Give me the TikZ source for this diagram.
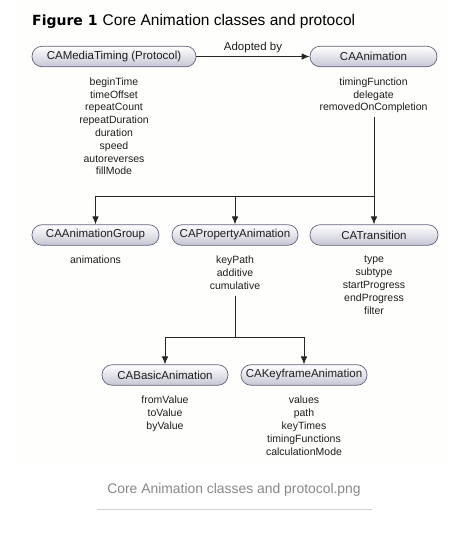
\documentclass[tikz,border=0pt]{standalone}
\usepackage{fontspec}
\setmainfont{Liberation Sans}
\newfontfamily\figbold{DejaVu Sans}
\usetikzlibrary{arrows.meta}
\definecolor{bordc}{RGB}{100,100,128}
\definecolor{botc}{RGB}{198,198,212}
\definecolor{bgc}{RGB}{254,254,252}
\definecolor{capc}{RGB}{135,135,135}
\definecolor{rulec}{RGB}{208,208,208}
\definecolor{txtc}{RGB}{30,30,30}
\tikzset{
  cls/.style={draw=bordc, line width=0.7pt, rounded corners=10pt,
    top color=white, bottom color=botc, minimum height=20.5pt,
    minimum width=126pt, inner sep=0pt, text=txtc,
    font=\fontsize{11.5}{13}\selectfont},
  attr/.style={align=center, inner sep=0pt, anchor=north, text=txtc,
    font=\fontsize{10.5}{12.8}\selectfont},
  arr/.style={-{Latex[length=8pt,width=6.5pt]}, line width=0.8pt, black!85},
  conn/.style={line width=0.8pt, black!85},
}
\begin{document}
\begin{tikzpicture}[x=1pt,y=1pt]
\useasboundingbox (0,0) rectangle (469,-546);
\fill[bgc] (22,0) rectangle (448,-465);

% title
\node[anchor=base west, inner sep=0pt, font=\figbold\bfseries\fontsize{14}{18}\selectfont] (fig) at (32,-25) {Figure 1};
\node[anchor=base west, inner sep=0pt, font=\fontsize{15.5}{18}\selectfont] (ttl) at (102.5,-25) {Core Animation classes and protocol};

% row 1
\node[cls, minimum width=164pt] (mt) at (114,-56.5) {CAMediaTiming (Protocol)};
\node[cls, minimum width=127pt] (an) at (373.5,-56.5) {CAAnimation};
\draw[arr] (mt) -- (an) node[midway, above=3pt, inner sep=0pt, text=txtc, font=\fontsize{11.5}{13}\selectfont] (adopt) {Adopted by};
\node[attr] (mta) at (114,-77.5) {beginTime\\timeOffset\\repeatCount\\repeatDuration\\duration\\speed\\autoreverses\\fillMode};
\node[attr] (ana) at (373.5,-77.5) {timingFunction\\delegate\\removedOnCompletion};

% row 2
\node[cls, minimum width=127pt] (grp) at (95.5,-235) {CAAnimationGroup};
\node[cls, minimum width=126pt] (pa) at (235,-235) {CAPropertyAnimation};
\node[cls, minimum width=128pt] (tr) at (374,-235) {CATransition};
\node[attr] (grpa) at (95.5,-256) {animations};
\node[attr] (paa) at (235,-256) {keyPath\\additive\\cumulative};
\node[attr] (tra) at (374,-256) {type\\subtype\\startProgress\\endProgress\\filter};

% row 3
\node[cls, minimum width=126pt] (ba) at (165,-375) {CABasicAnimation};
\node[cls, minimum width=126pt] (kf) at (304,-375) {CAKeyframeAnimation};
\node[attr] (baa) at (165,-396) {fromValue\\toValue\\byValue};
\node[attr] (kfa) at (304,-396) {values\\path\\keyTimes\\timingFunctions\\calculationMode};

% connectors
\coordinate (j1) at (374,-196.5);
\draw[conn, shorten <=4pt] (ana.south -| j1) -- (j1);
\draw[arr] (j1) -| (grp.north);
\draw[arr] (j1 -| pa.north) -- (pa.north);
\draw[arr] (j1) -- (tr.north);

\coordinate (j2) at (235,-337);
\draw[conn, shorten <=6pt] (paa.south) -- (j2);
\draw[arr] (j2) -| (ba.north);
\draw[arr] (j2) -| (kf.north);

% caption
\node[anchor=base, inner sep=0pt, text=capc, font=\fontsize{13.9}{16}\selectfont] (cap) at (234,-493) {Core Animation classes and protocol.png};
\draw[rulec, line width=0.8pt] (97,-509) -- (372,-509);
\end{tikzpicture}
\end{document}
